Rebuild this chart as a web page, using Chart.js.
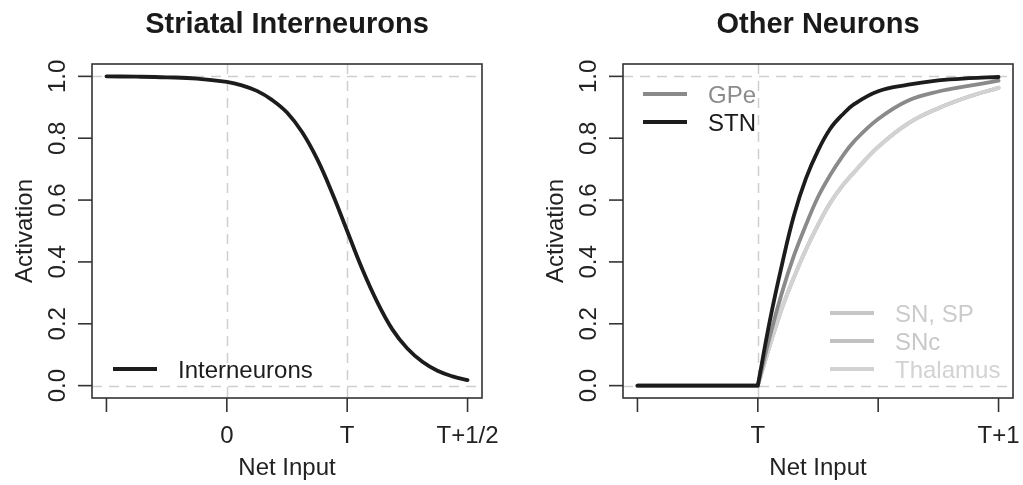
<!DOCTYPE html>
<html>
<head>
<meta charset="utf-8">
<script src="https://cdn.jsdelivr.net/npm/chart.js@4/dist/chart.umd.min.js"></script>
<style>
html, body { margin: 0; padding: 0; background: #fff; }
#wrap { position: relative; width: 1023px; height: 485px; overflow: hidden; }
canvas { position: absolute; top: 0; }
</style>
</head>
<body>
<div id="wrap">
  <canvas id="leftChart" width="511" height="485" style="left:0"></canvas>
  <canvas id="rightChart" width="512" height="485" style="left:511px"></canvas>
</div>
<script>
// --- DATA ---
// left panel: x in tick units, ticks at -1, 0 (0), 1 (T), 2 (T+1/2)
const leftX = [-1, -0.75, -0.5, -0.25, 0, 0.125, 0.25, 0.375, 0.5, 0.625, 0.75, 0.875, 1, 1.125, 1.25, 1.375, 1.5, 1.625, 1.75, 1.875, 2];
const interneurons = [1.0, 0.999, 0.997, 0.993, 0.982, 0.971, 0.953, 0.924, 0.883, 0.82, 0.733, 0.623, 0.5, 0.377, 0.27, 0.182, 0.12, 0.077, 0.048, 0.03, 0.018];
const leftTicks = [-1, 0, 1, 2];
const leftTickLabels = ["", "0", "T", "T+1/2"];

// right panel: ticks at -1, 0 (T), 1, 2 (T+1); null splits the flat part from the rise
const rightX = [-1, 0, 0, 0, 0.1, 0.2, 0.3, 0.4, 0.5, 0.6, 0.7, 0.8, 1.0, 1.25, 1.5, 1.75, 2.0];
const stn      = [0, 0, null, 0, 0.21, 0.39, 0.55, 0.67, 0.76, 0.83, 0.875, 0.91, 0.952, 0.973, 0.987, 0.994, 0.998];
const gpe      = [0, 0, null, 0, 0.16, 0.30, 0.42, 0.52, 0.61, 0.68, 0.74, 0.79, 0.862, 0.922, 0.951, 0.969, 0.986];
const snsp     = [0, 0, null, 0, 0.13, 0.25, 0.35, 0.44, 0.52, 0.59, 0.645, 0.69, 0.772, 0.848, 0.897, 0.934, 0.963];
const snc      = [0, 0, null, 0, 0.13, 0.25, 0.35, 0.44, 0.52, 0.59, 0.645, 0.69, 0.772, 0.848, 0.897, 0.934, 0.963];
const thalamus = [0, 0, null, 0, 0.13, 0.25, 0.35, 0.44, 0.52, 0.59, 0.645, 0.69, 0.772, 0.848, 0.897, 0.934, 0.963];
const rightTicks = [-1, 0, 1, 2];
const rightTickLabels = ["", "T", "", "T+1"];

const yTicks = [0, 0.2, 0.4, 0.6, 0.8, 1.0];
const yTickLabels = ["0.0", "0.2", "0.4", "0.6", "0.8", "1.0"];

const FONT = '"Liberation Sans", Arial, Helvetica, sans-serif';

function pts(xs, ys) {
    return xs.map((x, i) => ({ x: x, y: ys[i] }));
}

// --- R style frame: box, ticks, labels, title, legend ---
const rFrame = {
    id: 'rframe',
    beforeDatasetsDraw(chart, args, o) {
        const { ctx, chartArea: a, scales: { x, y } } = chart;
        ctx.save();
        ctx.strokeStyle = '#cfcfcf';
        ctx.lineWidth = 1.5;
        ctx.setLineDash([10, 7]);
        o.hlines.forEach(v => {
            const py = Math.round(y.getPixelForValue(v)) + 0.5;
            ctx.beginPath(); ctx.moveTo(a.left, py); ctx.lineTo(a.right, py); ctx.stroke();
        });
        o.vlines.forEach(v => {
            const px = Math.round(x.getPixelForValue(v)) + 0.5;
            ctx.beginPath(); ctx.moveTo(px, a.top); ctx.lineTo(px, a.bottom); ctx.stroke();
        });
        ctx.restore();
    },
    afterDraw(chart, args, o) {
        const { ctx, chartArea: a, scales: { x, y } } = chart;
        ctx.save();
        ctx.strokeStyle = '#333';
        ctx.lineWidth = 1.6;
        ctx.strokeRect(a.left, a.top, a.right - a.left, a.bottom - a.top);

        ctx.fillStyle = '#222';
        ctx.font = '24px ' + FONT;
        // x ticks
        ctx.textAlign = 'center';
        ctx.textBaseline = 'alphabetic';
        o.xTicks.forEach((v, i) => {
            const px = x.getPixelForValue(v);
            ctx.beginPath(); ctx.moveTo(px, a.bottom); ctx.lineTo(px, a.bottom + 14); ctx.stroke();
            if (o.xLabels[i]) ctx.fillText(o.xLabels[i], px, a.bottom + 45);
        });
        ctx.fillText('Net Input', (a.left + a.right) / 2, a.bottom + 77);
        // y ticks, labels parallel to axis
        yTicks.forEach((v, i) => {
            const py = y.getPixelForValue(v);
            ctx.beginPath(); ctx.moveTo(a.left, py); ctx.lineTo(a.left - 14, py); ctx.stroke();
            ctx.save();
            ctx.translate(a.left - 27, py);
            ctx.rotate(-Math.PI / 2);
            ctx.fillText(yTickLabels[i], 0, 0);
            ctx.restore();
        });
        ctx.save();
        ctx.translate(a.left - 60, (a.top + a.bottom) / 2);
        ctx.rotate(-Math.PI / 2);
        ctx.fillText('Activation', 0, 0);
        ctx.restore();

        // title
        ctx.fillStyle = '#1a1a1a';
        ctx.font = 'bold 29px ' + FONT;
        ctx.fillText(o.title, (a.left + a.right) / 2, 33);

        // legend
        ctx.font = '24px ' + FONT;
        ctx.textAlign = 'left';
        ctx.lineCap = 'butt';
        o.legend.forEach(item => {
            const ds = chart.data.datasets[item.index];
            const ly = item.fromTop ? a.top + item.dy : a.bottom - item.dy;
            ctx.strokeStyle = ds.borderColor;
            ctx.lineWidth = ds.borderWidth;
            ctx.beginPath(); ctx.moveTo(a.left + item.x, ly); ctx.lineTo(a.left + item.x + 44, ly); ctx.stroke();
            ctx.fillStyle = item.color;
            ctx.fillText(ds.label, a.left + item.x + 65, ly + 9);
        });
        ctx.restore();
    }
};

function lineSet(label, xs, ys, color) {
    return {
        label: label,
        data: pts(xs, ys),
        borderColor: color,
        borderWidth: 3.8,
        pointRadius: 0,
        fill: false,
        tension: 0.4,
        borderCapStyle: 'round',
        borderJoinStyle: 'round',
        spanGaps: false
    };
}

function baseOptions(padding, frame) {
    return {
        responsive: false,
        animation: false,
        layout: { padding: padding },
        scales: {
            x: { type: 'linear', min: -1.12, max: 2.12, display: false },
            y: { type: 'linear', min: -0.04, max: 1.04, display: false }
        },
        plugins: { legend: { display: false }, tooltip: { enabled: false }, rframe: frame }
    };
}

new Chart(document.getElementById('leftChart'), {
    type: 'line',
    data: { datasets: [lineSet('Interneurons', leftX, interneurons, '#1c1c1c')] },
    options: baseOptions({ left: 92, right: 29, top: 64, bottom: 87 }, {
        title: 'Striatal Interneurons',
        xTicks: leftTicks, xLabels: leftTickLabels,
        hlines: [0, 1], vlines: [0, 1],
        legend: [{ index: 0, x: 21, dy: 29, fromTop: false, color: '#1c1c1c' }]
    }),
    plugins: [rFrame]
});

new Chart(document.getElementById('rightChart'), {
    type: 'line',
    data: {
        datasets: [
            lineSet('SN, SP', rightX, snsp, '#c6c6c6'),
            lineSet('SNc', rightX, snc, '#c2c2c2'),
            lineSet('Thalamus', rightX, thalamus, '#d2d2d2'),
            lineSet('GPe', rightX, gpe, '#8a8a8a'),
            lineSet('STN', rightX, stn, '#1c1c1c')
        ].reverse()
    },
    options: baseOptions({ left: 112, right: 10, top: 64, bottom: 87 }, {
        title: 'Other Neurons',
        xTicks: rightTicks, xLabels: rightTickLabels,
        hlines: [0, 1], vlines: [0],
        legend: [
            { index: 1, x: 20, dy: 30, fromTop: true, color: '#8c8c8c' },
            { index: 0, x: 20, dy: 58, fromTop: true, color: '#1a1a1a' },
            { index: 4, x: 207, dy: 85, fromTop: false, color: '#cbcbcb' },
            { index: 3, x: 207, dy: 57, fromTop: false, color: '#c8c8c8' },
            { index: 2, x: 207, dy: 29, fromTop: false, color: '#d2d2d2' }
        ]
    }),
    plugins: [rFrame]
});
</script>
</body>
</html>
